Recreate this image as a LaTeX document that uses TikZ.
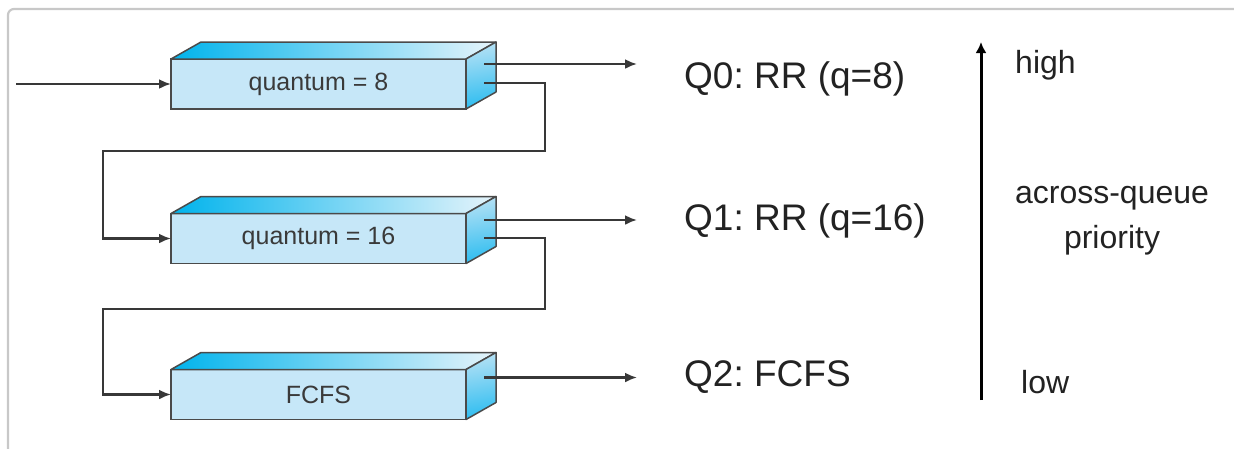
\documentclass[tikz,border=0pt]{standalone}
\usepackage{fontspec}
\setmainfont{Liberation Sans}
\usetikzlibrary{arrows.meta,calc}
\frenchspacing

\definecolor{linecol}{HTML}{383838}
\definecolor{edgecol}{HTML}{4A4A4A}
\definecolor{frontcol}{HTML}{C6E7F8}
\definecolor{topleft}{HTML}{00B3EC}
\definecolor{topright}{HTML}{E6F4FB}
\definecolor{sidetop}{HTML}{B4E1F5}
\definecolor{sidebot}{HTML}{2EBDF0}
\definecolor{framecol}{HTML}{C8C8C8}
\definecolor{txtcol}{HTML}{222222}
\definecolor{boxtxt}{HTML}{3A3A3A}

\tikzset{
  queuebox/.style={draw=edgecol, line width=1.5pt, fill=frontcol,
    minimum width=295pt, minimum height=50pt, inner sep=0pt, outer sep=0pt,
    text=boxtxt, font=\fontsize{25}{30}\selectfont},
  facet/.style={draw=edgecol, line width=1.5pt, line join=round},
  flow/.style={draw=linecol, line width=2.3pt, -{Latex[length=12pt,width=10pt]}},
  qlabel/.style={text=txtcol, inner sep=0pt, anchor=west,
    font=\fontsize{37}{44}\selectfont},
  prio/.style={text=txtcol, inner sep=0pt, font=\fontsize{32}{45}\selectfont},
}

\begin{document}
\begin{tikzpicture}[x=1pt, y=-1pt]
  \useasboundingbox (0,0) rectangle (1234,448);
  \clip (0,0) rectangle (1234,448);
  \fill[white] (0,0) rectangle (1234,448);

  % window frame
  \draw[framecol, line width=2.2pt, rounded corners=6pt] (8,470) -- (8,9) -- (1260,9);

  % the three ready queues, drawn as 3-D bars
  \foreach \n/\y/\t in {0/84/{quantum = 8}, 1/238.5/{quantum = 16}, 2/394.5/{FCFS}} {
    \node[queuebox] (q\n) at (318.5,\y) {\t};
    \shade[left color=topleft, right color=topright]
      (q\n.north west) -- ($(q\n.north west)+(30,-17)$)
      -- ($(q\n.north east)+(30,-17)$) -- (q\n.north east) -- cycle;
    \draw[facet]
      (q\n.north west) -- ($(q\n.north west)+(30,-17)$)
      -- ($(q\n.north east)+(30,-17)$) -- (q\n.north east) -- cycle;
    \shade[top color=sidetop, bottom color=sidebot, shading angle=10]
      (q\n.north east) -- ($(q\n.north east)+(30,-17)$)
      -- ($(q\n.south east)+(30,-17)$) -- (q\n.south east) -- cycle;
    \draw[facet]
      (q\n.north east) -- ($(q\n.north east)+(30,-17)$)
      -- ($(q\n.south east)+(30,-17)$) -- (q\n.south east) -- cycle;
  }

  % exit points on the right faces
  \coordinate (q0out) at ($(q0.north east)+(18,5)$);
  \coordinate (q0dn)  at ($(q0.north east)+(18,24)$);
  \coordinate (q1out) at ($(q1.north east)+(18,6.5)$);
  \coordinate (q1dn)  at ($(q1.north east)+(18,24.5)$);
  \coordinate (q2out) at ($(q2.north east)+(18,8)$);

  % turning points of the demotion paths
  \coordinate (in)    at (16,84);
  \coordinate (turn0) at (103,151);
  \coordinate (turn1) at (103,309);

  % labels
  \node[qlabel] (l0) at (684,79)  {Q0: RR (q=8)};
  \node[qlabel] (l1) at (684,221) {Q1: RR (q=16)};
  \node[qlabel] (l2) at (684,377) {Q2: FCFS};

  \coordinate (e0) at (637,0 |- q0out);
  \coordinate (e1) at (637,0 |- q1out);
  \coordinate (e2) at (637,0 |- q2out);

  % arrivals, completions and demotions
  \draw[flow] (in) -- (q0.west);
  \draw[flow] (q0out) -- (e0);
  \draw[flow] (q1out) -- (e1);
  \draw[flow] (q2out) -- (e2);
  \draw[flow] (q0dn) -- ++(61,0) |- (turn0) |- (q1.west);
  \draw[flow] (q1dn) -- ++(61,0) |- (turn1) |- (q2.west);

  % priority scale
  \coordinate (plow)  at (981,400);
  \coordinate (phigh) at (981,42);
  \draw[draw=black, line width=3pt, -{Latex[length=11pt,width=11pt]}] (plow) -- (phigh);
  \node[prio, anchor=base west] (high) at (1015,73) {high};
  \node[prio, anchor=base west] (low) at (1021,393) {low};
  \node[prio, align=center, anchor=base] (prio) at (1112,248) {across-queue\\priority};
\end{tikzpicture}
\end{document}
